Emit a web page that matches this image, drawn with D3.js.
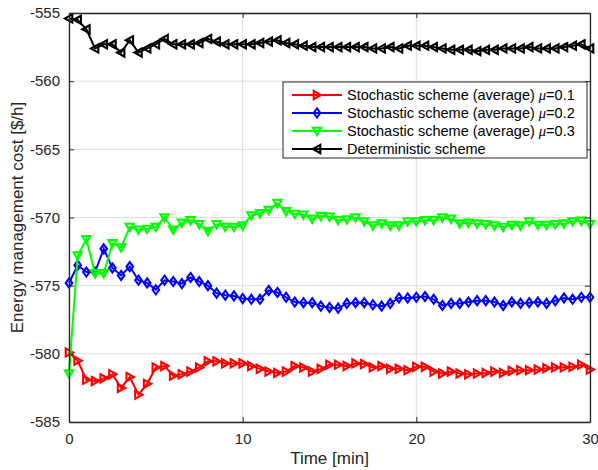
<!DOCTYPE html>
<html>
<head>
<meta charset="utf-8">
<script src="https://cdn.jsdelivr.net/npm/d3@7"></script>
<style>
  body { margin: 0; background: #fff; }
  svg { display: block; font-family: "Liberation Sans", Arial, sans-serif; }
</style>
</head>
<body>
<svg id="chart" width="598" height="470"></svg>
<script>
// time axis: 0..30 min every 0.5 min
const times = d3.range(0, 30.01, 0.5);

const red = [
  -579.9, -580.5, -581.9, -582.0, -581.8, -581.5, -582.5, -581.7, -583.0, -582.2,
  -581.0, -580.9, -581.6, -581.5, -581.3, -581.0, -580.55, -580.55, -580.7, -580.7,
  -580.7, -580.9, -581.1, -581.3, -581.4, -581.3, -580.9, -581.0, -581.3, -581.1,
  -580.8, -580.8, -580.9, -580.7, -580.75, -581.0, -580.9, -581.1, -581.1, -581.2,
  -580.95, -580.95, -581.3, -581.45, -581.3, -581.45, -581.5, -581.45, -581.4, -581.3,
  -581.4, -581.25, -581.2, -581.2, -581.15, -581.05, -581.0, -581.0, -580.95, -580.8,
  -581.15
];
const blue = [
  -574.8, -573.5, -574.0, -574.0, -572.3, -573.7, -574.25, -573.6, -574.6, -574.8,
  -575.3, -574.6, -574.7, -574.85, -574.4, -574.7, -575.0, -575.55, -575.7, -575.75,
  -575.95, -576.0, -576.0, -575.35, -575.5, -575.85, -576.2, -576.25, -576.25, -576.5,
  -576.6, -576.65, -576.3, -576.25, -576.25, -576.4, -576.5, -576.3, -575.9, -575.9,
  -575.85, -575.8, -576.0, -576.45, -576.3, -576.3, -576.2, -576.1, -576.1, -576.2,
  -576.45, -576.2, -576.3, -576.25, -576.2, -576.3, -576.1, -575.9, -576.0, -575.85,
  -575.85
];
const green = [
  -581.45, -572.8, -571.6, -574.1, -574.1, -571.9, -572.2, -570.7, -570.9, -570.85,
  -570.7, -570.0, -570.9, -570.4, -570.2, -570.5, -571.0, -570.5, -570.7, -570.7,
  -570.6, -569.85, -569.7, -569.45, -568.95, -569.55, -569.75, -569.8, -570.1, -569.9,
  -569.95, -570.2, -570.15, -570.0, -570.3, -570.6, -570.45, -570.6, -570.6, -570.3,
  -570.3, -570.2, -570.2, -570.0, -570.1, -570.45, -570.4, -570.45, -570.5, -570.6,
  -570.7, -570.55, -570.6, -570.3, -570.55, -570.55, -570.5, -570.45, -570.3, -570.25,
  -570.5
];
const black = [
  -555.4, -555.5, -556.2, -557.6, -557.3, -557.3, -557.9, -557.0, -557.9, -557.6,
  -557.3, -556.9, -557.3, -557.3, -557.3, -557.2, -556.9, -557.1, -557.3, -557.3,
  -557.3, -557.3, -557.2, -557.1, -557.0, -557.2, -557.3, -557.4, -557.5, -557.5,
  -557.5, -557.5, -557.5, -557.5, -557.5, -557.6, -557.6, -557.5, -557.6, -557.4,
  -557.4, -557.4, -557.5, -557.6, -557.7, -557.7, -557.7, -557.8, -557.7, -557.7,
  -557.6, -557.6, -557.6, -557.5, -557.6, -557.6, -557.6, -557.5, -557.4, -557.3,
  -557.6
];

const seriesNames = [
  'Stochastic scheme (average) ',
  'Stochastic scheme (average) ',
  'Stochastic scheme (average) ',
  'Deterministic scheme'
];
const muLabels = ['0.1', '0.2', '0.3', null];
const xTicks = [0, 10, 20, 30];
const yTicks = [-585, -580, -575, -570, -565, -560, -555];

const series = [
  { values: red,   color: '#ff0000', marker: 'right' },
  { values: blue,  color: '#0000ff', marker: 'diamond' },
  { values: green, color: '#00ff00', marker: 'down' },
  { values: black, color: '#000000', marker: 'left' }
];

const svg = d3.select('#chart');
const m = { left: 69, right: 590, top: 13, bottom: 422 };

const x = d3.scaleLinear().domain([0, 30]).range([m.left, m.right]);
const y = d3.scaleLinear().domain([-585, -555]).range([m.bottom, m.top]);

// grid
const grid = svg.append('g');
grid.selectAll('.gx').data(xTicks).join('line')
  .attr('x1', d => x(d)).attr('x2', d => x(d))
  .attr('y1', m.top).attr('y2', m.bottom)
  .attr('stroke', '#dfdfdf').attr('stroke-width', 1);
grid.selectAll('.gy').data(yTicks).join('line')
  .attr('x1', m.left).attr('x2', m.right)
  .attr('y1', d => y(d)).attr('y2', d => y(d))
  .attr('stroke', '#dfdfdf').attr('stroke-width', 1);

// marker shapes, roughly like the MATLAB ones
function markerPath(kind, s) {
  switch (kind) {
    case 'right':   return `M${-s * 0.8},${-s}L${s},0L${-s * 0.8},${s}Z`;
    case 'left':    return `M${s * 0.8},${-s}L${-s},0L${s * 0.8},${s}Z`;
    case 'down':    return `M${-s},${-s * 0.8}L${s},${-s * 0.8}L0,${s}Z`;
    case 'diamond': return `M0,${-s * 1.1}L${s * 0.8},0L0,${s * 1.1}L${-s * 0.8},0Z`;
  }
}

const line = d3.line().x((d, i) => x(times[i])).y(d => y(d));
const mSize = 4.1;

const plot = svg.append('g');
series.forEach(s => {
  plot.append('path')
    .attr('d', line(s.values))
    .attr('fill', 'none')
    .attr('stroke', s.color)
    .attr('stroke-width', 2);

  plot.selectAll(null).data(s.values).join('path')
    .attr('transform', (d, i) => `translate(${x(times[i])},${y(d)})`)
    .attr('d', markerPath(s.marker, mSize))
    .attr('fill', 'none')
    .attr('stroke', s.color)
    .attr('stroke-width', 2.1)
    .attr('stroke-linejoin', 'miter');
});

// axes box with inward ticks
const axisColor = '#262626';
const xAxis = d3.axisBottom(x).tickValues(xTicks).tickSizeInner(-5).tickSizeOuter(0).tickPadding(11);
const yAxis = d3.axisLeft(y).tickValues(yTicks).tickSizeInner(-5).tickSizeOuter(0).tickPadding(9);

const gx = svg.append('g').attr('transform', `translate(0,${m.bottom})`).call(xAxis);
const gy = svg.append('g').attr('transform', `translate(${m.left},0)`).call(yAxis);
const gxTop = svg.append('g').attr('transform', `translate(0,${m.top})`)
  .call(d3.axisTop(x).tickValues(xTicks).tickSizeInner(-5).tickSizeOuter(0).tickFormat(''));
const gyRight = svg.append('g').attr('transform', `translate(${m.right},0)`)
  .call(d3.axisRight(y).tickValues(yTicks).tickSizeInner(-5).tickSizeOuter(0).tickFormat(''));

[gx, gy, gxTop, gyRight].forEach(g => {
  g.select('.domain').attr('stroke', axisColor).attr('stroke-width', 1.3);
  g.selectAll('.tick line').attr('stroke', axisColor);
  g.selectAll('.tick text')
    .attr('fill', '#262626')
    .attr('font-size', '15px')
    .attr('font-family', '"Liberation Sans", Arial, sans-serif');
});
gy.selectAll('.tick text').text(d => d3.format('d')(d).replace('−', '-'));

// axis titles
svg.append('text')
  .attr('x', (m.left + m.right) / 2).attr('y', 464)
  .attr('text-anchor', 'middle')
  .attr('font-size', '17px').attr('fill', '#262626')
  .text('Time [min]');
svg.append('text')
  .attr('transform', `translate(23,${(m.top + m.bottom) / 2}) rotate(-90)`)
  .attr('text-anchor', 'middle')
  .attr('font-size', '17px').attr('fill', '#262626')
  .text('Energy management cost [$/h]');

// legend
const lg = svg.append('g').attr('transform', 'translate(283,82)');
lg.append('rect')
  .attr('width', 304).attr('height', 76)
  .attr('fill', '#fff').attr('stroke', '#262626').attr('stroke-width', 1);

series.forEach((s, i) => {
  const cy = 13 + i * 18;
  const row = lg.append('g').attr('transform', `translate(0,${cy})`);
  row.append('line')
    .attr('x1', 9).attr('x2', 59).attr('y1', 0).attr('y2', 0)
    .attr('stroke', s.color).attr('stroke-width', 2);
  row.append('path')
    .attr('transform', 'translate(34,0)')
    .attr('d', markerPath(s.marker, mSize))
    .attr('fill', 'none').attr('stroke', s.color).attr('stroke-width', 2.1);
  const t = row.append('text')
    .attr('x', 64).attr('y', 5)
    .attr('font-size', '14.5px').attr('fill', '#000');
  t.append('tspan').text(seriesNames[i]);
  if (muLabels[i]) {
    t.append('tspan')
      .attr('font-family', '"Liberation Serif", "Times New Roman", serif')
      .attr('font-style', 'italic')
      .text('μ');
    t.append('tspan').text('=' + muLabels[i]);
  }
});
</script>
</body>
</html>
